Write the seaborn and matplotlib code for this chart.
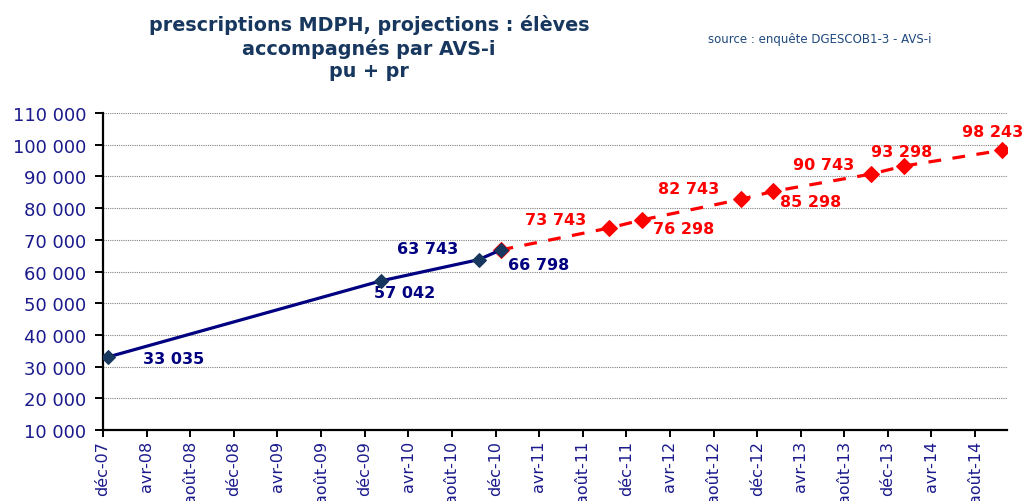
import matplotlib
matplotlib.use("Agg")
import matplotlib.pyplot as plt
import seaborn as sns
import pandas as pd

# ---------------- data ----------------
obs_dates = ["2007-12-15", "2010-01-15", "2010-10-15", "2010-12-15"]
obs_values = [33035, 57042, 63743, 66798]

proj_dates = ["2010-12-15", "2011-10-15", "2012-01-15", "2012-10-15",
              "2013-01-15", "2013-10-15", "2014-01-15", "2014-10-15"]
proj_values = [66798, 73743, 76298, 82743, 85298, 90743, 93298, 98243]

tick_labels = ["déc-07", "avr-08", "août-08", "déc-08", "avr-09", "août-09",
               "déc-09", "avr-10", "août-10", "déc-10", "avr-11", "août-11",
               "déc-11", "avr-12", "août-12", "déc-12", "avr-13", "août-13",
               "déc-13", "avr-14", "août-14"]
y_ticks = [10000, 20000, 30000, 40000, 50000, 60000, 70000, 80000, 90000,
           100000, 110000]

title = "prescriptions MDPH, projections : élèves\naccompagnés par AVS-i\npu + pr"
source = "source : enquête DGESCOB1-3 - AVS-i"

# label offsets (pixels) - style only
obs_offsets = [(66, -2), (24, -12), (-51, 11), (38, -15)]
proj_offsets = [None, (-54, 8), (41, -9), (-52, 11), (37, -10), (-48, 10),
                (-3, 14), (-9, 19)]

# ---------------- plot ----------------
sns.set_style("white")
plt.rcParams["font.family"] = ["DejaVu Sans"]

fig = plt.figure(figsize=(10.26, 5.02), dpi=100)
ax = fig.add_axes([103 / 1026, 1 - 431 / 502, (1007 - 103) / 1026, (431 - 114) / 502])

df_obs = pd.DataFrame({"date": pd.to_datetime(obs_dates), "value": obs_values})
df_proj = pd.DataFrame({"date": pd.to_datetime(proj_dates), "value": proj_values})

NAVY = "#000080"
RED = "#FF0000"
AXBLUE = "#1a1a8c"

sns.lineplot(data=df_proj, x="date", y="value", ax=ax, color=RED,
             linewidth=2.3, linestyle=(0, (4, 3.6)), marker="D",
             markersize=8.5, markeredgecolor=RED, markerfacecolor=RED, zorder=3)
sns.lineplot(data=df_obs, x="date", y="value", ax=ax, color=NAVY,
             linewidth=2.3, marker="D", markersize=7.5,
             markeredgecolor="#17375E", markerfacecolor="#17375E", zorder=4)

lab_kw = dict(textcoords="offset pixels", ha="center", va="center",
              fontsize=11.5, fontweight="bold")
for d, v, off in zip(df_obs["date"], obs_values, obs_offsets):
    ax.annotate(f"{v:,}".replace(",", " "), (d, v), xytext=off,
                color=NAVY, **lab_kw)
for d, v, off in zip(df_proj["date"], proj_values, proj_offsets):
    if off is None:
        continue
    ax.annotate(f"{v:,}".replace(",", " "), (d, v), xytext=off,
                color=RED, **lab_kw)

# axes
tick_dates = pd.date_range("2007-12-01", periods=len(tick_labels), freq="4MS")
ax.set_xticks(tick_dates)
ax.set_xticklabels(tick_labels, rotation=90, fontsize=11.5, color=AXBLUE)
ax.set_xlim(pd.Timestamp("2007-12-01"), pd.Timestamp("2014-10-29"))

ax.set_ylim(10000, 110000)
ax.set_yticks(y_ticks)
ax.set_yticklabels([f"{t:,}".replace(",", " ") for t in y_ticks],
                   fontsize=13, color=AXBLUE)

ax.grid(axis="y", linestyle=(0, (1, 1)), color="#808080", linewidth=0.8)
ax.grid(axis="x", visible=False)
ax.set_axisbelow(True)
for s in ["top", "right"]:
    ax.spines[s].set_visible(False)
for s in ["left", "bottom"]:
    ax.spines[s].set_color("black")
    ax.spines[s].set_linewidth(1.6)
ax.tick_params(axis="y", which="major", direction="out", length=6,
               width=1.4, color="black", pad=6, left=True)
ax.tick_params(axis="x", which="major", direction="out", length=5,
               width=1.4, color="black", pad=2, bottom=True)
ax.set_xlabel("")
ax.set_ylabel("")

fig.text(369 / 1026, 1 - 48 / 502, title, ha="center", va="center",
         fontsize=13.8, fontweight="bold", color="#17375E",
         family=["DejaVu Sans"], linespacing=1.22)
fig.text(820 / 1026, 1 - 40 / 502, source, ha="center", va="center",
         fontsize=8.5, color="#1F497D")

fig.savefig("out.png", dpi=100)
